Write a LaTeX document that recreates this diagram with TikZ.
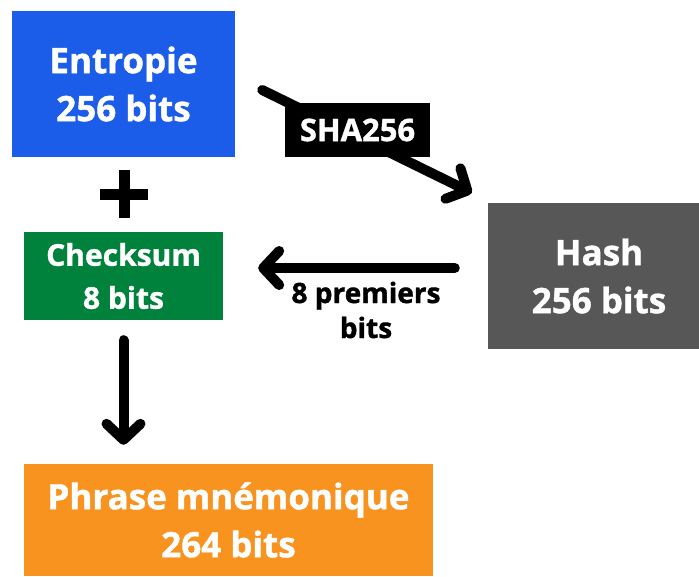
\documentclass[tikz,border=0pt]{standalone}
\usepackage{fontspec}
\setmainfont{Open Sans}[BoldFeatures={FakeBold=1.2}]
\usepackage{tikz}
\usetikzlibrary{arrows.meta}
\definecolor{entropieblue}{RGB}{27,92,232}
\definecolor{checkgreen}{RGB}{0,130,60}
\definecolor{hashgray}{RGB}{87,87,87}
\definecolor{phraseorange}{RGB}{247,147,30}
\tikzset{
  box/.style={inner sep=0pt,align=center,text=white,font=\bfseries\fontsize{35}{48}\selectfont},
  fleche/.style={line width=10pt,line cap=round,-{Straight Barb[length=16pt,width=34pt,round]}}
}
\begin{document}
\begin{tikzpicture}[x=1pt,y=-1pt]
\useasboundingbox (0,0) rectangle (699,576);
\node[box,fill=entropieblue,minimum width=223pt,minimum height=146pt] (entropie) at (123.5,84) {Entropie\\256 bits};
\node[box,fill=checkgreen,minimum width=199pt,minimum height=88pt,font=\bfseries\fontsize{30}{43}\selectfont] (checksum) at (123.5,276) {Checksum\\8 bits};
\node[box,fill=hashgray,minimum width=222pt,minimum height=146pt] (hash) at (599,276) {Hash\\256 bits};
\node[box,fill=phraseorange,minimum width=409pt,minimum height=112pt] (phrase) at (228.5,520) {Phrase mnémonique\\264 bits};
\draw[line width=11pt] (100,194) -- (148,194) (124,170) -- (124,218);
\draw[fleche] ([shift={(27,6)}]entropie.east) -- ([shift={(-16,-10)}]hash.north west);
\node[box,fill=black,minimum width=145pt,minimum height=54pt,font=\bfseries\fontsize{31}{40}\selectfont] (sha) at (357.5,130) {SHA256};
\draw[fleche] ([shift={(-33,-8)}]hash.west) -- ([shift={(35,-8)}]checksum.east);
\node[align=center,inner sep=0pt,font=\bfseries\fontsize{28}{35}\selectfont] (premiers) at (366,310) {8 premiers\\bits};
\draw[fleche,shorten <=20pt,shorten >=19pt] (checksum.south) -- (checksum.south |- phrase.north);
\end{tikzpicture}
\end{document}
